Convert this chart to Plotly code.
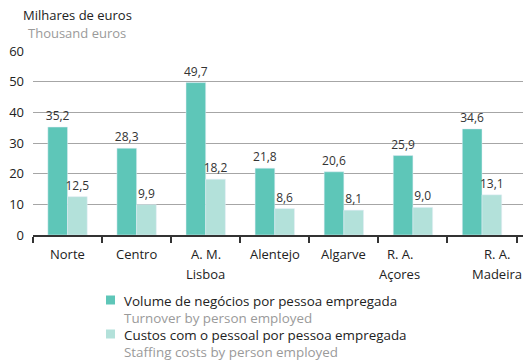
import plotly.graph_objects as go

regions = ["Norte", "Centro", "A. M.<br>Lisboa", "Alentejo", "Algarve", "R. A.<br>Açores", "R. A.<br>Madeira"]
turnover = [35.2, 28.3, 49.7, 21.8, 20.6, 25.9, 34.6]
staff_costs = [12.5, 9.9, 18.2, 8.6, 8.1, 9.0, 13.1]

series_pt = ["Volume de negócios por pessoa empregada", "Custos com o pessoal por pessoa empregada"]
series_en = ["Turnover by person employed", "Staffing costs by person employed"]
unit_pt = "Milhares de euros"
unit_en = "Thousand euros"

FONT = "Open Sans"
DARK = "#5EC6B8"
LIGHT = "#B3E1DA"
TEXT = "#222222"
GREY = "#9a9a9a"

# horizontal nudge (px) of each category label under the axis
label_nudge = [0, 0, 0, 0, 0, -13, 15]


def fmt(v):
    return f"{v:.1f}".replace(".", ",")


fig = go.Figure()
for vals, color, name in ((turnover, DARK, series_pt[0]), (staff_costs, LIGHT, series_pt[1])):
    fig.add_trace(go.Bar(
        x=regions, y=vals, name=name, marker_color=color,
        text=[fmt(v) for v in vals], textposition="outside", constraintext="none",
        textfont=dict(size=12, color="#333333"), cliponaxis=False,
        showlegend=False,
    ))

annotations = [
    dict(text=unit_pt, x=0, xref="paper", xshift=-11, y=1, yref="paper", yshift=36,
         xanchor="left", yanchor="middle", showarrow=False, borderpad=0,
         font=dict(size=13, color=TEXT)),
    dict(text=unit_en, x=0, xref="paper", xshift=-6, y=1, yref="paper", yshift=18,
         xanchor="left", yanchor="middle", showarrow=False, borderpad=0,
         font=dict(size=13, color=GREY)),
]

# category labels, one annotation per line
for cat, dx in zip(regions, label_nudge):
    for i, line in enumerate(cat.split("<br>")):
        annotations.append(dict(
            text=line, x=cat, xref="x", y=0, yref="y", xshift=dx,
            yshift=-19 - 20 * i, xanchor="center", yanchor="middle",
            showarrow=False, borderpad=0, font=dict(size=13, color=TEXT),
        ))

# legend: colour square plus bilingual two-line caption
shapes = []
PLOT_H = 184
LEG_X0 = (106 - 33) / 490
LEG_X1 = (115 - 33) / 490
LEG_TX = (123 - 33) / 490
for k, color in enumerate((DARK, LIGHT)):
    yc = -(300 - 235 + 34 * k) / PLOT_H
    shapes.append(dict(type="rect", xref="paper", yref="paper",
                       x0=LEG_X0, x1=LEG_X1, y0=yc - 4.5 / PLOT_H, y1=yc + 4.5 / PLOT_H,
                       fillcolor=color, line=dict(width=0)))
    annotations.append(dict(
        text=f"{series_pt[k]}<br><span style='color:{GREY}'>{series_en[k]}</span>",
        x=LEG_TX, xref="paper", y=yc + 9 / PLOT_H, yref="paper",
        xanchor="left", yanchor="top", align="left", showarrow=False, borderpad=0,
        font=dict(size=13.4, color=TEXT),
    ))

fig.update_layout(
    width=529, height=361,
    margin=dict(l=33, r=6, t=51, b=126, autoexpand=False),
    paper_bgcolor="white", plot_bgcolor="white",
    font=dict(family=FONT, size=13, color=TEXT),
    barmode="group", bargap=0.43, bargroupgap=0,
    showlegend=False,
    annotations=annotations,
    shapes=shapes,
)
fig.update_yaxes(
    range=[0, 60], dtick=10, showgrid=True, gridcolor="#A6A6A6", gridwidth=1,
    zeroline=False, showline=False, ticks="", ticklabelstandoff=8,
    tickfont=dict(size=13, color=TEXT),
)
fig.update_xaxes(
    showline=True, linecolor="#333333", linewidth=1.5,
    ticks="outside", tickson="boundaries", ticklen=6, tickcolor="#333333",
    tickwidth=1.5, showticklabels=False,
)

fig.write_html("out.html")
